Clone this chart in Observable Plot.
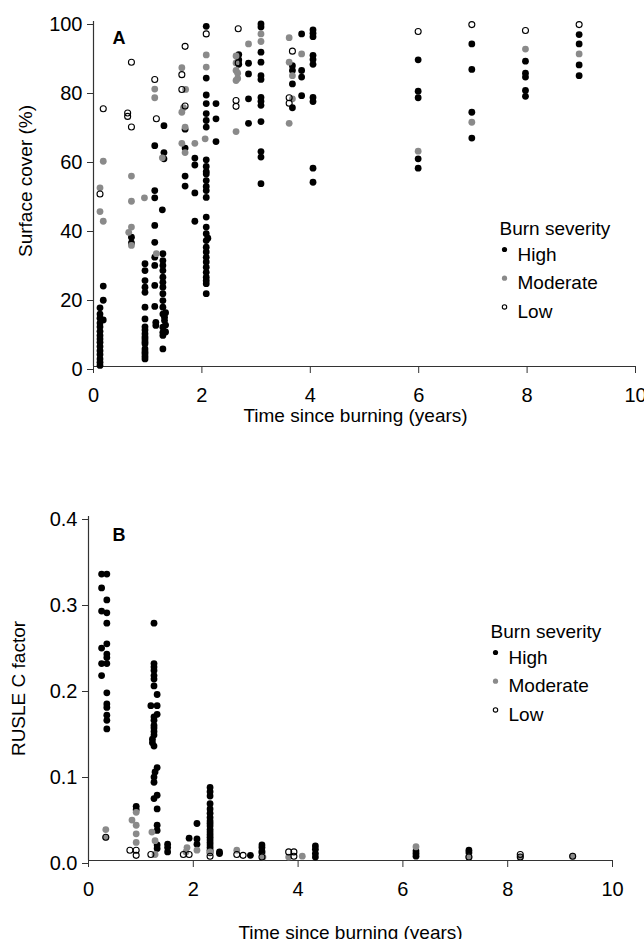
<!DOCTYPE html>
<html><head><meta charset="utf-8">
<script src="https://cdn.jsdelivr.net/npm/d3@7"></script>
<script src="https://cdn.jsdelivr.net/npm/@observablehq/plot@0.6"></script>
<style>
body{margin:0;background:#fff;}
#chart{width:644px;height:939px;overflow:hidden;}
#chart svg{display:block;}
</style></head><body><div id="chart"></div>
<script>
const severities = ["High", "Moderate", "Low"];
const xTicks = [0, 2, 4, 6, 8, 10];
const coverTicks = [0, 20, 40, 60, 80, 100];
const cTicks = [0, 0.1, 0.2, 0.3, 0.4];
const xLabel = "Time since burning (years)";
const coverLabel = "Surface cover (%)";
const cLabel = "RUSLE C factor";
const legendTitle = "Burn severity";

// Panel A: surface cover (%) — [years, value]
const coverHigh = [
 [0.12,0.3],[0.12,1.2],[0.12,2.2],[0.12,3.5],[0.12,4.6],[0.12,5.8],[0.12,7],[0.12,8],[0.12,9],[0.12,10.2],[0.12,11.5],[0.12,12.6],[0.12,14],[0.12,15.2],[0.12,17],
 [0.18,23.3],[0.18,19.2],[0.18,13.5],
 [0.70,37.5],[0.70,35.8],
 [0.95,29.8],[0.95,27.8],[0.95,24.9],[0.95,23],[0.95,21.5],[0.95,17.2],[0.95,13.8],[0.95,11.5],[0.95,10.6],[0.95,9.5],[0.95,8.6],[0.95,8],[0.95,7.2],[0.95,6.6],[0.95,5.1],[0.95,4.3],[0.95,3.7],[0.95,2.9],[0.95,2.2],
 [1.13,64],[1.13,51],[1.13,48.9],[1.13,40.9],[1.13,36],[1.13,31.7],[1.13,29.3],[1.13,23.5],[1.13,17.4],[1.15,12.8],[1.15,11.9],
 [1.30,69.8],[1.30,62],[1.30,60.2],
 [1.27,45.4],[1.28,32.7],[1.28,30.7],[1.28,29.3],[1.28,27.8],[1.28,25.9],[1.28,24.4],[1.28,23],[1.28,21.1],[1.28,19.1],[1.28,17.2],[1.28,15.2],[1.31,14.3],[1.31,13.3],[1.28,11.4],[1.28,9.9],[1.28,9],[1.28,5.1],[1.33,15.6],[1.33,12],[1.33,10],
 [1.69,68.8],[1.69,63.3],[1.69,55.2],[1.69,52.3],
 [1.87,60.4],[1.87,58.4],[1.87,50.3],[1.87,42.1],
 [2.08,98.6],[2.08,83.6],[2.08,78.7],[2.08,76.2],[2.08,73.3],[2.08,71.3],[2.08,69.4],[2.08,59.9],[2.08,58],[2.08,56.5],[2.08,55.8],[2.08,53.9],[2.08,52.2],[2.08,51],[2.08,49],[2.08,43.3],[2.08,40.4],[2.08,38.5],[2.11,37.2],[2.08,36.5],[2.08,34.6],[2.08,33.2],[2.08,31.7],[2.08,30.3],[2.08,28.8],[2.08,27.3],[2.08,25.9],[2.08,24.9],[2.08,24],[2.08,21.1],
 [2.26,76.2],[2.26,71.8],[2.26,65.2],
 [2.68,90.4],[2.68,88.9],[2.68,87.6],
 [2.86,87.9],[2.86,84.8],[2.86,77.6],[2.86,70.5],
 [3.09,99.3],[3.09,98.4],[3.09,91.1],[3.09,88.2],[3.09,84.3],[3.09,83.2],[3.09,78],[3.09,76.9],[3.09,75.7],[3.09,71],[3.09,62.3],[3.09,60.7],[3.09,53],
 [3.67,87.2],[3.67,85.8],[3.67,81.9],[3.67,75],
 [3.84,96.4],[3.84,85.8],[3.84,83.9],[3.84,78.5],
 [4.05,97.6],[4.05,96.6],[4.05,95.6],[4.05,90.2],[4.05,89],[4.05,87.6],[4.05,78],[4.05,76.8],[4.05,57.5],[4.05,53.4],
 [5.99,88.9],[5.99,79.8],[5.99,77.9],[5.99,60.2],[5.99,57.5],
 [6.98,93.5],[6.98,86.1],[6.98,73.7],[6.98,66.2],
 [7.97,88.5],[7.97,85],[7.97,83.9],[7.97,80],[7.97,78.3],
 [8.96,96.2],[8.96,93.5],[8.96,87.4],[8.96,84.3]
];
const coverModerate = [
 [0.18,59.5],[0.12,51.8],[0.12,44.9],[0.18,42.1],
 [0.70,55.2],[0.70,47.9],[0.70,40.4],[0.65,38.9],[0.70,35.1],
 [0.94,48.9],
 [1.13,80.4],[1.13,77.9],[1.16,32.7],[1.27,60.5],
 [1.63,86.6],[1.70,80.3],[1.66,75],[1.63,73.7],[1.69,69.4],[1.63,64.7],[1.69,62],
 [1.87,64.7],
 [2.08,90.3],[2.08,86.8],[2.06,66],
 [2.63,90],[2.63,88],[2.63,85.8],[2.66,85],[2.66,83.5],[2.63,82.9],[2.63,68.1],
 [2.86,93.5],
 [3.09,96.4],[3.09,94.2],
 [3.61,95.3],[3.61,88.2],[3.67,77.6],[3.67,84.3],[3.61,70.5],
 [3.84,90.6],
 [5.99,62.4],[6.98,70.8],[7.97,92],[8.96,90.6]
];
const coverLow = [
 [0.18,74.7],[0.12,50],
 [0.70,88.2],[0.63,73.5],[0.63,72.5],[0.70,69.4],
 [1.13,83.2],[1.16,71.8],
 [1.69,92.8],[1.63,84.6],[1.63,80.3],[1.69,75.5],
 [2.08,96.4],
 [2.67,97.9],[2.67,88],[2.63,77.1],[2.63,75.4],
 [3.67,91.4],[3.61,77.9],[3.61,76.3],
 [5.99,97.1],[6.98,99.1],[7.97,97.4],[8.96,99.1]
];

// Panel B: RUSLE C factor — [years, value]
const cHigh = [
 [0.25,0.333],[0.35,0.333],[0.25,0.317],[0.35,0.303],[0.25,0.290],[0.35,0.288],[0.35,0.276],[0.35,0.252],[0.25,0.247],[0.35,0.240],[0.35,0.236],[0.25,0.229],[0.35,0.229],[0.25,0.215],[0.35,0.195],[0.35,0.182],[0.35,0.178],[0.35,0.169],[0.35,0.163],[0.35,0.153],
 [0.91,0.063],[0.91,0.059],
 [1.25,0.276],[1.25,0.229],[1.25,0.225],[1.25,0.221],[1.25,0.215],[1.25,0.211],[1.25,0.203],[1.31,0.193],[1.19,0.180],[1.31,0.180],[1.31,0.170],[1.25,0.167],[1.25,0.163],[1.25,0.157],[1.25,0.154],[1.25,0.150],[1.25,0.146],[1.22,0.141],[1.22,0.137],[1.25,0.133],[1.31,0.108],[1.27,0.103],[1.25,0.097],[1.25,0.091],[1.31,0.076],[1.25,0.072],[1.31,0.060],[1.31,0.041],[1.31,0.035],[1.31,0.018],[1.31,0.014],
 [1.51,0.019],[1.51,0.015],[1.51,0.010],
 [1.92,0.026],
 [2.07,0.043],[2.07,0.025],[2.07,0.019],
 [2.32,0.085],[2.32,0.080],[2.32,0.075],[2.32,0.066],[2.32,0.060],[2.32,0.055],[2.32,0.050],[2.32,0.046],[2.32,0.043],[2.32,0.040],[2.32,0.036],[2.32,0.033],[2.32,0.030],[2.32,0.027],[2.32,0.024],[2.32,0.021],[2.32,0.018],[2.32,0.015],[2.32,0.012],[2.32,0.009],
 [2.50,0.010],[2.50,0.008],
 [3.09,0.006],
 [3.31,0.018],[3.31,0.015],[3.31,0.011],[3.31,0.009],
 [4.33,0.017],[4.33,0.013],[4.33,0.008],[4.33,0.004],
 [6.25,0.011],[6.25,0.008],[6.25,0.005],
 [7.26,0.012],[7.26,0.009]
];
const cModerate = [
 [0.33,0.036],[0.33,0.027],
 [0.83,0.047],[0.91,0.056],[0.91,0.041],[0.91,0.031],[0.91,0.021],
 [1.21,0.033],[1.27,0.023],[1.27,0.007],
 [1.88,0.015],[1.86,0.010],
 [2.07,0.012],[2.32,0.010],[2.83,0.012],[3.33,0.004],[3.82,0.004],[4.08,0.005],[6.25,0.016],[7.26,0.004],[8.24,0.004],[9.24,0.005]
];
const cLow = [
 [0.33,0.027],[0.79,0.012],[0.91,0.012],[0.91,0.006],[1.19,0.007],[1.81,0.007],[1.92,0.007],[2.32,0.005],[2.83,0.007],[2.95,0.006],[3.31,0.004],[3.82,0.010],[3.92,0.010],[3.92,0.005],[7.26,0.004],[8.24,0.007],[8.24,0.004],[9.24,0.005]
];

const FONT = "'Liberation Sans', Arial, Helvetica, sans-serif";
const GRAY = "#8a8a8a";
const AXIS = "#333";
const styles = {
  High: {fill: "#000", stroke: "none", r: 3.4},
  Moderate: {fill: GRAY, stroke: "none", r: 3.4},
  Low: {fill: "none", stroke: "#000", strokeWidth: 1.1, r: 3}
};
const TXT = {frameAnchor: "top-left", textAnchor: "start", lineAnchor: "middle"};

function panel(cfg) {
  const marks = [
    Plot.ruleY([0], {stroke: AXIS, strokeWidth: 1.2}),
    Plot.ruleX([0], {stroke: AXIS, strokeWidth: 1.2}),
    Plot.axisX({ticks: xTicks, tickSize: 7, tickPadding: cfg.xPad, tickFormat: d3.format("d"), label: null, stroke: AXIS, fontSize: 20}),
    Plot.axisY({ticks: cfg.yTicks, tickSize: 6, tickPadding: 5, tickFormat: cfg.yFormat, label: null, stroke: AXIS, fontSize: 20, dy: 3}),
    Plot.text([xLabel], {frameAnchor: "bottom", lineAnchor: "middle", textAnchor: "middle", dx: cfg.xlDx, dy: cfg.xlDy, fontSize: 19}),
    Plot.text([cfg.yLabel], {frameAnchor: "left", rotate: -90, textAnchor: "middle", lineAnchor: "middle", dx: cfg.ylDx, dy: cfg.ylDy, fontSize: 19}),
    Plot.text([cfg.tag], {...TXT, dx: cfg.tagDx, dy: cfg.tagDy, fontSize: 18, fontWeight: "bold"}),
    Plot.text([legendTitle], {...TXT, dx: cfg.legDx, dy: cfg.legDy, fontSize: 19})
  ];
  cfg.series.forEach((pairs, i) => {
    const s = styles[severities[i]];
    marks.push(Plot.dot(pairs, {x: d => d[0], y: d => d[1], ...s}));
  });
  severities.forEach((name, i) => {
    const s = styles[name];
    marks.push(Plot.dot([name], {frameAnchor: "top-left", dx: cfg.legDx + 5, dy: cfg.legDy + 21 + i * 28.7, ...s, r: s.r - 0.8}));
    marks.push(Plot.text([name], {...TXT, dx: cfg.legDx + 18, dy: cfg.legDy + 26 + i * 28.7, fontSize: 19}));
  });
  return Plot.plot({
    width: 644, height: cfg.height,
    marginTop: cfg.mt, marginBottom: cfg.mb, marginLeft: cfg.ml, marginRight: cfg.mr,
    style: {fontFamily: FONT, fontSize: "18px", color: "#000", background: "#fff", overflow: "visible"},
    x: {domain: [0, 10]},
    y: {domain: cfg.yDomain},
    marks
  });
}

const chart = document.getElementById("chart");
chart.append(panel({
  height: 440, mt: 21, mb: 74, ml: 93, mr: 9,
  yDomain: [0, 100], yTicks: coverTicks, yFormat: d3.format("d"), yLabel: coverLabel,
  xPad: 14, xlDx: -9, xlDy: 49, ylDx: -68, ylDy: -13,
  tag: "A", tagDx: 19, tagDy: 17,
  legDx: 406, legDy: 207,
  series: [coverHigh, coverModerate, coverLow]
}));
chart.append(panel({
  height: 499, mt: 76, mb: 79, ml: 88, mr: 32,
  yDomain: [0, 0.4], yTicks: cTicks, yFormat: d3.format(".1f"), yLabel: cLabel,
  xPad: 14, xlDx: 0, xlDy: 72, ylDx: -70, ylDy: 0,
  tag: "B", tagDx: 24, tagDy: 19,
  legDx: 402, legDy: 115,
  series: [cHigh, cModerate, cLow]
}));
</script></body></html>
